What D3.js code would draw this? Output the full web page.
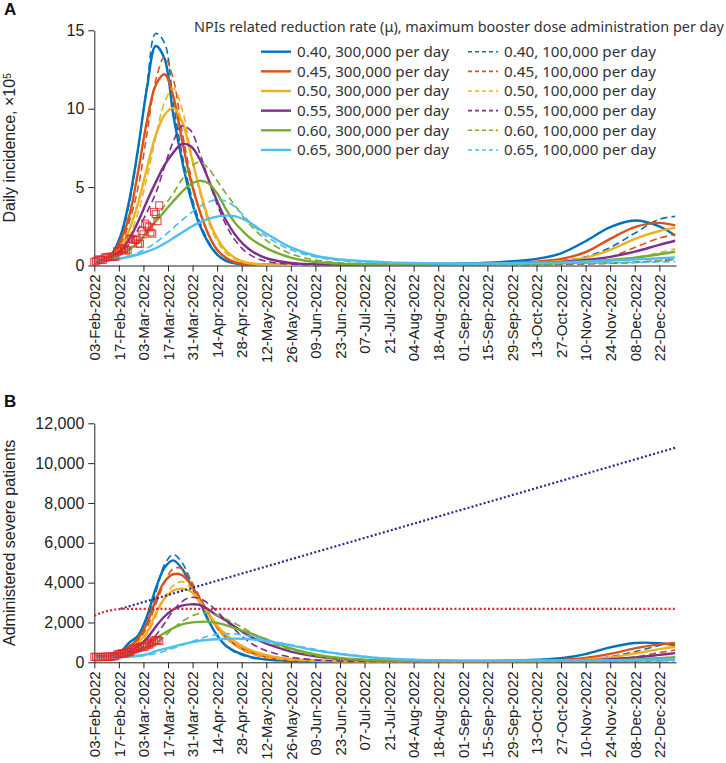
<!DOCTYPE html>
<html><head><meta charset="utf-8">
<script src="https://cdn.jsdelivr.net/npm/d3@7"></script>
<style>
body{margin:0;background:#fff;}
svg{display:block;}
</style></head><body>
<svg id="chart" width="726" height="763"></svg>
<script>
// ---------- DATA ----------
// days since 03-Feb-2022
const days = [0,5,10,15,20,25,30,35,40,45,50,55,60,65,70,75,80,85,90,95,100,112,126,140,154,168,182,196,210,224,238,252,266,280,294,308,322,331];

const muLabels = ["0.40","0.45","0.50","0.55","0.60","0.65"];
const colors = ["#0072BD","#D95319","#EDB120","#7E2F8E","#77AC30","#4DBEEE"];
const boosterLabels = ["300,000 per day","100,000 per day"];

// Panel A: daily incidence (x10^5)
const incA_040_300k = [0.25,0.4,0.75,1.9,4.2,7.5,11.3,14.0,13.2,9.6,6.7,4.3,2.6,1.45,0.7,0.3,0.14,0.08,0.06,0.05,0.05, 0.04,0.04,0.04,0.05,0.06,0.08,0.1,0.13,0.18,0.27,0.42,0.78,1.55,2.45,2.87,2.5, 1.91];
const incA_040_100k = [0.25,0.38,0.7,1.75,4.0,7.4,11.5,14.8,14.2,10.4,7.1,4.6,2.8,1.55,0.75,0.32,0.14,0.08,0.05,0.04,0.04, 0.03,0.03,0.03,0.04,0.05,0.06,0.07,0.08,0.1,0.14,0.22,0.32,0.55,1.15,2.06,2.95, 3.13];
const incA_045_300k = [0.25,0.38,0.68,1.6,3.2,6.0,9.2,11.5,12.2,10.8,8.0,5.4,3.5,2.0,1.0,0.5,0.22,0.11,0.07,0.05,0.05, 0.05,0.04,0.04,0.04,0.05,0.06,0.07,0.09,0.12,0.17,0.25,0.42,0.85,1.7,2.45,2.72, 2.55];
const incA_045_100k = [0.25,0.36,0.62,1.35,2.8,5.0,8.4,11.8,13.3,11.9,8.6,5.7,3.5,2.0,1.0,0.46,0.2,0.1,0.06,0.04,0.04, 0.03,0.03,0.03,0.03,0.04,0.04,0.05,0.06,0.07,0.09,0.13,0.2,0.3,0.55,1.15,1.75, 1.98];
const incA_050_300k = [0.25,0.36,0.6,1.2,2.3,4.0,6.2,8.3,9.6,10.05,9.2,7.1,4.9,3.0,1.75,0.95,0.5,0.25,0.13,0.08,0.06, 0.05,0.05,0.05,0.05,0.05,0.06,0.06,0.07,0.09,0.12,0.18,0.27,0.5,1.0,1.7,2.2, 2.4];
const incA_050_100k = [0.25,0.35,0.55,1.0,1.9,3.4,5.6,8.2,10.4,11.3,10.0,7.3,4.7,2.8,1.55,0.8,0.4,0.2,0.1,0.06,0.05, 0.04,0.03,0.03,0.03,0.03,0.04,0.04,0.05,0.06,0.07,0.09,0.12,0.2,0.3,0.5,0.82, 1.06];
const incA_055_300k = [0.25,0.35,0.55,0.95,1.7,2.8,4.1,5.3,6.4,7.2,7.75,7.6,6.8,5.5,4.1,2.9,2.0,1.35,0.9,0.6,0.4, 0.16,0.08,0.06,0.05,0.05,0.05,0.06,0.06,0.08,0.1,0.14,0.22,0.35,0.55,0.88,1.32, 1.58];
const incA_055_100k = [0.25,0.34,0.5,0.8,1.4,2.3,3.4,4.6,6.3,7.9,8.9,8.6,7.2,5.5,3.9,2.6,1.65,1.0,0.6,0.36,0.22, 0.08,0.05,0.04,0.04,0.04,0.04,0.04,0.05,0.05,0.05,0.06,0.08,0.1,0.14,0.2,0.3, 0.4];
const incA_060_300k = [0.25,0.33,0.5,0.75,1.05,1.45,2.1,2.8,3.45,4.1,4.7,5.2,5.4,5.25,4.6,3.6,2.75,2.15,1.65,1.3,1.0, 0.5,0.22,0.12,0.08,0.07,0.07,0.07,0.08,0.09,0.1,0.13,0.18,0.26,0.36,0.5,0.72, 0.88];
const incA_060_100k = [0.25,0.32,0.45,0.68,1.0,1.5,2.2,3.0,3.8,4.6,5.5,6.3,6.6,6.2,5.4,4.6,3.85,3.1,2.45,1.9,1.45, 0.75,0.35,0.17,0.1,0.07,0.06,0.06,0.06,0.06,0.07,0.08,0.1,0.13,0.17,0.22,0.32, 0.4];
const incA_065_300k = [0.25,0.3,0.36,0.45,0.56,0.7,0.88,1.1,1.4,1.75,2.1,2.45,2.75,2.98,3.12,3.18,3.15,2.95,2.65,2.25,1.9, 1.15,0.62,0.38,0.27,0.2,0.16,0.14,0.13,0.13,0.14,0.16,0.2,0.25,0.31,0.38,0.46, 0.52];
const incA_065_100k = [0.25,0.3,0.37,0.48,0.62,0.82,1.1,1.45,1.9,2.4,2.9,3.35,3.75,4.05,4.2,4.1,3.75,3.2,2.6,2.1,1.7, 1.0,0.55,0.32,0.2,0.15,0.12,0.11,0.1,0.1,0.11,0.12,0.13,0.15,0.17,0.19,0.22, 0.25];

// Panel B: administered severe patients
const sevB_040_300k = [280,290,330,520,1000,1350,2300,3700,4750,5120,4700,3900,3050,2100,1350,830,560,380,250,170,120, 70,50,45,42,42,42,45,50,60,85,130,200,410,750,970,960, 870];
const sevB_040_100k = [280,290,320,500,950,1300,2150,3500,4900,5420,5000,4100,3100,2150,1350,820,520,340,220,150,110, 60,42,36,34,33,33,34,36,40,48,62,95,150,280,530,840, 990];
const sevB_045_300k = [280,290,320,480,800,1200,1950,3130,4050,4420,4380,3900,3200,2450,1750,1250,900,650,470,340,250, 130,80,60,52,50,50,50,52,56,65,85,120,220,420,700,900, 960];
const sevB_045_100k = [280,290,318,460,780,1100,1750,2900,4000,4700,4700,4100,3300,2500,1780,1250,860,600,420,290,200, 100,60,45,40,38,38,38,38,40,42,45,60,85,145,270,490, 610];
const sevB_050_300k = [280,290,315,450,700,1000,1500,2450,3200,3600,3700,3550,3050,2450,1850,1400,1050,780,580,430,320, 170,95,65,55,52,52,52,54,58,65,75,95,135,245,440,660, 765];
const sevB_050_100k = [280,290,315,430,650,920,1400,2300,3250,3850,4050,3750,3100,2400,1750,1250,880,620,440,310,220, 110,65,48,42,40,40,40,40,41,42,45,50,62,85,130,220, 290];
const sevB_055_300k = [280,288,310,400,530,800,1200,1790,2300,2650,2850,2910,2880,2650,2350,2100,1800,1500,1250,1050,870, 540,300,170,110,80,65,60,58,60,62,66,72,95,155,240,370, 460];
const sevB_055_100k = [280,285,305,360,470,640,900,1350,1950,2600,3050,3260,3200,2950,2550,2100,1650,1250,920,690,520, 260,120,65,48,42,40,38,38,38,39,40,41,42,45,58,85, 105];
const sevB_060_300k = [280,285,300,350,450,600,780,1180,1470,1720,1900,1990,2030,2040,1980,1870,1720,1580,1420,1250,1080, 700,400,220,130,90,70,60,58,60,62,66,72,80,100,145,205, 250];
const sevB_060_100k = [280,282,298,330,400,520,680,950,1300,1700,2050,2300,2440,2460,2350,2180,1960,1720,1470,1220,1000, 620,330,170,100,70,55,50,48,47,47,47,47,48,50,65,90, 110];
const sevB_065_300k = [280,272,268,275,290,330,400,560,670,780,900,1000,1080,1130,1160,1180,1190,1180,1150,1100,1030, 850,600,420,280,180,125,100,92,90,90,90,92,95,100,115,145, 160];
const sevB_065_100k = [280,272,266,268,278,305,350,440,560,700,860,1020,1180,1310,1400,1440,1420,1370,1290,1190,1080, 880,650,440,300,190,130,95,75,65,60,58,57,56,55,60,68, 75];

// Observed data (days since 03-Feb-2022)
const obsDays = [0,1,2,3,4,5,6,7,8,9,10,11,12,13,14,15,16,17,18,19,20,21,22,23,24,25,26,27,28,29,30,31,32,33,34,35,36,37];
const obsIncidence = [0.23,0.27,0.36,0.39,0.35,0.37,0.50,0.54,0.54,0.55,0.56,0.55,0.57,0.90,0.93,1.10,1.05,1.05,0.95,1.00,1.71,1.70,1.66,1.66,1.64,1.40,1.39,2.19,1.99,2.67,2.54,2.44,2.11,2.03,3.42,3.28,2.83,3.84];
const obsSevere = [278,270,257,261,272,268,285,274,268,279,288,306,313,389,408,439,443,439,480,512,512,581,643,655,715,727,762,797,766,797,896,885,955,1007,1087,1113,1116,1066];

// Capacity lines in panel B
const bedCapDays = [0,3,6,9,12,15,20,331];
const bedCapVals = [2330,2450,2540,2600,2650,2675,2680,2680];
const expandCapDays = [15,331];
const expandCapVals = [2690,10770];

// Axis ticks
const xTickLabels = ["03-Feb-2022","17-Feb-2022","03-Mar-2022","17-Mar-2022","31-Mar-2022","14-Apr-2022","28-Apr-2022","12-May-2022","26-May-2022","09-Jun-2022","23-Jun-2022","07-Jul-2022","21-Jul-2022","04-Aug-2022","18-Aug-2022","01-Sep-2022","15-Sep-2022","29-Sep-2022","13-Oct-2022","27-Oct-2022","10-Nov-2022","24-Nov-2022","08-Dec-2022","22-Dec-2022"];
const yTicksA = [0,5,10,15];
const yTicksB = [0,2000,4000,6000,8000,10000,12000];

const legendTitle = "NPIs related reduction rate (\u03bc), maximum booster dose administration per day";

// ---------- DRAW ----------
const svg = d3.select("#chart");
const AX = "'Liberation Sans', Arial, sans-serif";
const LG = "'Noto Sans', sans-serif";

const parse = d3.utcParse("%d-%b-%Y");
const start = parse(xTickLabels[0]);
const xTickDays = xTickLabels.map(s => Math.round((parse(s) - start) / 864e5));

const x = d3.scaleLinear().domain([0, 331.5]).range([94.3, 676]);
const yA = d3.scaleLinear().domain([0, 15]).range([265.5, 30.3]);
const yB = d3.scaleLinear().domain([0, 12000]).range([662.3, 423.3]);

const incA300 = [incA_040_300k, incA_045_300k, incA_050_300k, incA_055_300k, incA_060_300k, incA_065_300k];
const incA100 = [incA_040_100k, incA_045_100k, incA_050_100k, incA_055_100k, incA_060_100k, incA_065_100k];
const sevB300 = [sevB_040_300k, sevB_045_300k, sevB_050_300k, sevB_055_300k, sevB_060_300k, sevB_065_300k];
const sevB100 = [sevB_040_100k, sevB_045_100k, sevB_050_100k, sevB_055_100k, sevB_060_100k, sevB_065_100k];

function drawPanel(y, s300, s100, yTicks, yFmt, obs, yTitle, letter, letterY) {
  const g = svg.append("g");
  const y0 = y.range()[0];
  // x axis
  const xa = g.append("g").attr("transform", `translate(0,${y0})`)
    .call(d3.axisBottom(x).tickValues(xTickDays).tickFormat((d, i) => xTickLabels[i]).tickSize(6).tickSizeOuter(0));
  xa.selectAll("text").attr("transform", "rotate(-90)").attr("x", -9).attr("y", 0).attr("dy", "0.35em")
    .style("text-anchor", "end").style("font-family", AX).style("font-size", "15px").style("fill", "#222");
  xa.select(".domain").attr("stroke", "#222");
  xa.selectAll(".tick line").attr("stroke", "#222");
  // y axis
  const ya = g.append("g").attr("transform", `translate(${x.range()[0]},0)`)
    .call(d3.axisLeft(y).tickValues(yTicks).tickFormat(yFmt).tickSize(6).tickPadding(4).tickSizeOuter(0));
  ya.selectAll("text").style("font-family", AX).style("font-size", "16px").style("fill", "#222");
  ya.select(".domain").attr("stroke", "#222");
  ya.selectAll(".tick line").attr("stroke", "#222");

  const line = d3.line().x(d => x(d[0])).y(d => y(d[1])).curve(d3.curveCatmullRom.alpha(0.5));
  for (let i = 0; i < 6; i++) {
    g.append("path").datum(days.map((d, k) => [d, s300[i][k]])).attr("d", line)
      .attr("fill", "none").attr("stroke", colors[i]).attr("stroke-width", 2.4);
    g.append("path").datum(days.map((d, k) => [d, s100[i][k]])).attr("d", line)
      .attr("fill", "none").attr("stroke", colors[i]).attr("stroke-width", 1.6).attr("stroke-dasharray", "7,4");
  }
  // observed
  g.append("g").selectAll("rect").data(obsDays.map((d, k) => [d, obs[k]])).join("rect")
    .attr("x", d => x(d[0]) - 3.5).attr("y", d => y(d[1]) - 3.5).attr("width", 7).attr("height", 7)
    .attr("fill", "none").attr("stroke", "#e2262b").attr("stroke-opacity", 0.85).attr("stroke-width", 1.1);

  // titles
  const yc = (y.range()[0] + y.range()[1]) / 2;
  const t = g.append("text").attr("transform", `translate(15,${yc}) rotate(-90)`).attr("text-anchor", "middle")
    .style("font-family", AX).style("font-size", "16px").style("fill", "#222");
  if (Array.isArray(yTitle)) {
    t.append("tspan").text(yTitle[0]);
    t.append("tspan").attr("dy", "-0.45em").style("font-size", "10px").text(yTitle[1]);
  } else t.text(yTitle);
  g.append("text").attr("x", 4).attr("y", letterY).text(letter)
    .style("font-family", AX).style("font-size", "17px").style("font-weight", "bold").style("fill", "#111");
  return g;
}

drawPanel(yA, incA300, incA100, yTicksA, d3.format("d"), obsIncidence, ["Daily incidence, \u00d710", "5"], "A", 15);
const gB = drawPanel(yB, sevB300, sevB100, yTicksB, d3.format(","), obsSevere, "Administered severe patients", "B", 407);

// capacity lines
const capLine = d3.line().x(d => x(d[0])).y(d => yB(d[1])).curve(d3.curveMonotoneX);
gB.append("path").datum(bedCapDays.map((d, k) => [d, bedCapVals[k]])).attr("d", capLine)
  .attr("fill", "none").attr("stroke", "#e8202a").attr("stroke-width", 2.2).attr("stroke-dasharray", "2,2.2");
gB.append("path").datum(expandCapDays.map((d, k) => [d, expandCapVals[k]])).attr("d", capLine)
  .attr("fill", "none").attr("stroke", "#272b8e").attr("stroke-width", 2.2).attr("stroke-dasharray", "2,2.2");

// legend
const lg = svg.append("g").style("font-family", LG).style("fill", "#333");
lg.append("text").attr("x", 194).attr("y", 32).style("font-size", "14.4px").text(legendTitle);
const colX = [[261, 291, 297], [468, 498, 504]];
for (let i = 0; i < 6; i++) {
  const cy = 51.7 + i * 19.65;
  for (let j = 0; j < 2; j++) {
    lg.append("line").attr("x1", colX[j][0]).attr("x2", colX[j][1]).attr("y1", cy).attr("y2", cy)
      .attr("stroke", colors[i]).attr("stroke-width", j === 0 ? 2.4 : 1.6)
      .attr("stroke-dasharray", j === 0 ? null : "4,3");
    lg.append("text").attr("x", colX[j][2]).attr("y", cy + 5.2).style("font-size", "15.2px")
      .text(`${muLabels[i]}, ${boosterLabels[j]}`);
  }
}
</script>
</body></html>
